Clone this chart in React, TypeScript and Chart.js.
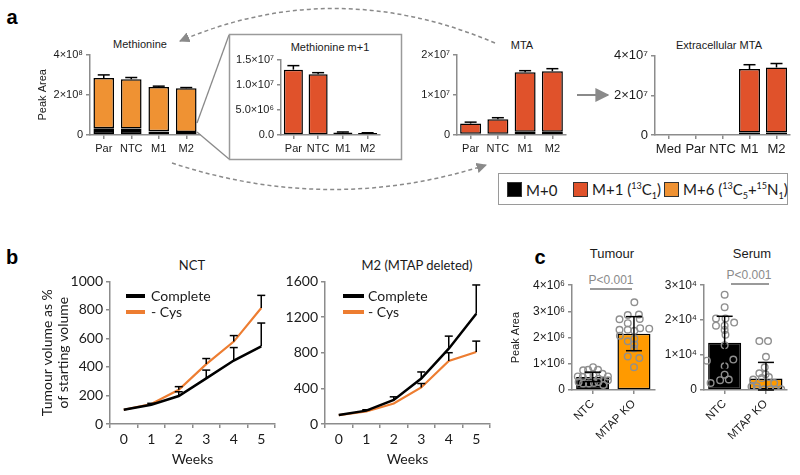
import React, { useEffect, useRef } from 'react';
import { Chart, registerables } from 'chart.js';

Chart.register(...registerables);

// ---------------- Panel a data ----------------
const aCategories = ['Par', 'NTC', 'M1', 'M2'];
const extCategories = ['Med', 'Par', 'NTC', 'M1', 'M2'];

const metM0 = [2.0e7, 2.0e7, 1.8e7, 1.5e7];
const metM1 = [1.3e7, 1.2e7, 0.05e7, 0.04e7];
const metM6 = [2.51e8, 2.45e8, 2.2e8, 2.17e8];
const metUpper = [2.99e8, 2.86e8, 2.43e8, 2.36e8];
const metTicks = [0, 2e8, 4e8];
const metTickLabels = ['0', '2×10⁸', '4×10⁸'];

const mp1Values = [1.30e7, 1.21e7, 0.05e7, 0.04e7];
const mp1Upper = [1.38e7, 1.24e7, 0.06e7, 0.045e7];
const mp1Ticks = [0, 5e6, 1e7, 1.5e7];
const mp1TickLabels = ['0.0', '5.0×10⁶', '1.0×10⁷', '1.5×10⁷'];

const mtaM0 = [0.03e7, 0.03e7, 0.08e7, 0.08e7];
const mtaM1 = [0.255e7, 0.36e7, 1.48e7, 1.505e7];
const mtaUpper = [0.32e7, 0.43e7, 1.6e7, 1.65e7];
const mtaTicks = [0, 1e7, 2e7];
const mtaTickLabels = ['0', '1×10⁷', '2×10⁷'];

const extM0 = [null, null, null, 0.12e7, 0.12e7];
const extM1 = [null, null, null, 3.21e7, 3.29e7];
const extUpper = [null, null, null, 3.55e7, 3.61e7];
const extTicks = [0, 2e7, 4e7];
const extTickLabels = ['0', '2×10⁷', '4×10⁷'];

// ---------------- Panel b data ----------------
const weeks = ['0', '1', '2', '3', '4', '5'];
const nctComplete = [100, 135, 196, 320, 445, 545];
const nctCys = [100, 140, 240, 420, 578, 813];
const nctCompleteUpper = [null, 145, 226, 378, 536, 708];
const nctCysUpper = [null, null, 262, 459, 620, 902];
const nctTicks = [0, 200, 400, 600, 800, 1000];

const m2Complete = [100, 150, 270, 510, 845, 1236];
const m2Cys = [100, 140, 230, 410, 707, 808];
const m2CompleteUpper = [null, 160, 305, 584, 986, 1560];
const m2CysUpper = [null, null, null, 454, 800, 930];
const m2Ticks = [0, 400, 800, 1200, 1600];

// ---------------- Panel c data ----------------
const cCategories = ['NTC', 'MTAP KO'];
const cPositions = [0, 1];

const tumMeans = [0.50e6, 2.15e6];
const tumUpper = [0.68e6, 2.8e6];
const tumLower = [0.32e6, 1.5e6];
const tumTicks = [0, 1e6, 2e6, 3e6, 4e6];
const tumTickLabels = ['0', '1×10⁶', '2×10⁶', '3×10⁶', '4×10⁶'];
const tumNtcJitter = [-0.23, -0.11, 0.01, 0.13, 0.24, 0.37, -0.36, -0.24, -0.11, 0.02, 0.14, -0.34, -0.23, -0.09, 0.03, 0.14, 0.26, 0.37];
const tumNtcVals = [0.75e6, 0.77e6, 0.87e6, 0.77e6, 0.62e6, 0.52e6, 0.52e6, 0.50e6, 0.56e6, 0.56e6, 0.43e6, 0.31e6, 0.25e6, 0.25e6, 0.27e6, 0.31e6, 0.19e6, 0.37e6];
const tumKoJitter = [0.01, -0.35, -0.15, 0.12, 0.14, -0.15, -0.35, -0.15, 0.01, 0.15, 0.37, -0.34, 0.01, -0.15, 0.01, 0.0, -0.15, 0.13, 0.0];
const tumKoVals = [3.35e6, 2.70e6, 2.86e6, 2.88e6, 2.71e6, 2.55e6, 2.30e6, 2.30e6, 2.26e6, 2.36e6, 2.34e6, 2.07e6, 1.96e6, 1.86e6, 1.74e6, 1.58e6, 1.28e6, 1.22e6, 0.87e6];

const serMeans = [1.35e4, 0.33e4];
const serUpper = [2.11e4, 0.79e4];
const serLower = [0.59e4, 0];
const serTicks = [0, 1e4, 2e4, 3e4];
const serTickLabels = ['0', '1×10⁴', '2×10⁴', '3×10⁴'];
const serNtcJitter = [0.0, 0.0, -0.21, 0.02, 0.23, -0.21, 0.0, 0.0, 0.02, 0.0, -0.43, 0.21, 0.0, 0.0, -0.11, -0.34, 0.10];
const serNtcVals = [2.73e4, 2.37e4, 2.05e4, 2.05e4, 1.93e4, 1.84e4, 1.84e4, 1.72e4, 1.58e4, 1.28e4, 0.84e4, 0.87e4, 0.68e4, 0.44e4, 0.28e4, 0.20e4, 0.30e4];
const serKoJitter = [-0.16, 0.05, 0.0, -0.03, -0.16, -0.01, -0.31, -0.10, 0.07, 0.20, -0.35, -0.22, -0.05, 0.10, 0.24, 0.37, -0.22];
const serKoVals = [1.40e4, 1.40e4, 0.95e4, 0.65e4, 0.48e4, 0.45e4, 0.30e4, 0.34e4, 0.37e4, 0.20e4, 0.09e4, 0.11e4, 0.02e4, 0.02e4, 0.01e4, 0.02e4, 0.03e4];

// ---------------- styles ----------------
const FONT_A = "'Liberation Sans', Arial, sans-serif";
const FONT_B = "Lato, 'Open Sans', sans-serif";
const AXIS = '#8c8c8c';
const BLACK = '#000000';
const RED = '#E0522B';
const ORANGE_A = '#EF9233';
const ORANGE_B = '#ED7D31';
const ORANGE_C = '#FF9A00';
const DOT = '#8f8f8f';

type ErrItem = { dataset: number; upper?: (number | null)[]; lower?: (number | null)[] };

function errorBars(items: ErrItem[], cap: number, width = 1.5, color = '#000') {
  return {
    id: 'errorBars',
    afterDatasetsDraw(chart: any) {
      const ctx = chart.ctx;
      ctx.save();
      ctx.strokeStyle = color;
      ctx.lineWidth = width;
      ctx.lineCap = 'butt';
      const seg = (x1: number, y1: number, x2: number, y2: number) => {
        ctx.beginPath();
        ctx.moveTo(x1, y1);
        ctx.lineTo(x2, y2);
        ctx.stroke();
      };
      for (const it of items) {
        const meta = chart.getDatasetMeta(it.dataset);
        const ys = chart.scales[meta.yAxisID];
        meta.data.forEach((el: any, i: number) => {
          const x = el.x;
          const y = el.y;
          if (!isFinite(x) || !isFinite(y)) return;
          const up = it.upper ? it.upper[i] : null;
          const lo = it.lower ? it.lower[i] : null;
          if (up != null) {
            const yu = ys.getPixelForValue(up);
            seg(x, y, x, yu);
            seg(x - cap / 2, yu, x + cap / 2, yu);
          }
          if (lo != null) {
            const yl = ys.getPixelForValue(lo);
            seg(x, y, x, yl);
            seg(x - cap / 2, yl, x + cap / 2, yl);
          }
        });
      }
      ctx.restore();
    },
  };
}

function yLin(tickVals: number[], tickLabels: string[], width: number, font: any, title?: any, stacked = false) {
  return {
    type: 'linear',
    min: tickVals[0],
    max: tickVals[tickVals.length - 1],
    stacked,
    afterBuildTicks: (s: any) => {
      s.ticks = tickVals.map((v) => ({ value: v }));
    },
    afterFit: (s: any) => {
      s.width = width;
    },
    ticks: {
      font,
      color: '#1a1a1a',
      padding: 3,
      callback: (v: number) => {
        const i = tickVals.indexOf(v);
        return i >= 0 ? tickLabels[i] : '';
      },
    },
    grid: { drawOnChartArea: false, drawTicks: true, tickLength: 4, color: AXIS, lineWidth: 1.5 },
    border: { display: true, color: AXIS, width: 1.5 },
    title: title || { display: false },
  };
}

function xCat(height: number, font: any, gridOffset: boolean, rotation = 0, title?: any, stacked = false) {
  return {
    type: 'category',
    offset: true,
    stacked,
    afterFit: (s: any) => {
      s.height = height;
    },
    ticks: { font, color: '#1a1a1a', maxRotation: rotation, minRotation: rotation, autoSkip: false, padding: 3 },
    grid: { offset: gridOffset, drawOnChartArea: false, drawTicks: true, tickLength: 4, color: AXIS, lineWidth: 1.5 },
    border: { display: true, color: AXIS, width: 1.5 },
    title: title || { display: false },
  };
}

// linear x axis whose ticks sit at the group positions, labelled with the group names
function xGroups(height: number, font: any, positions: number[], names: string[]) {
  return {
    type: 'linear',
    offset: false,
    min: positions[0] - 0.5,
    max: positions[positions.length - 1] + 0.5,
    afterBuildTicks: (s: any) => {
      s.ticks = positions.map((v) => ({ value: v }));
    },
    afterFit: (s: any) => {
      s.height = height;
    },
    ticks: {
      font,
      color: '#1a1a1a',
      maxRotation: 45,
      minRotation: 45,
      autoSkip: false,
      padding: 3,
      callback: (v: number) => {
        const i = positions.indexOf(v);
        return i >= 0 ? names[i] : '';
      },
    },
    grid: { offset: false, drawOnChartArea: false, drawTicks: true, tickLength: 4, color: AXIS, lineWidth: 1.5 },
    border: { display: true, color: AXIS, width: 1.5 },
  };
}

function baseOptions(padTop: number, padRight: number, scales: any) {
  return {
    responsive: false,
    animation: false,
    events: [],
    layout: { padding: { top: padTop, right: padRight, bottom: 0, left: 0 } },
    plugins: { legend: { display: false }, tooltip: { enabled: false }, title: { display: false } },
    scales,
  };
}

function barDs(label: string, data: any[], color: string, pct: number) {
  return {
    label,
    data,
    backgroundColor: color,
    borderColor: '#000',
    borderWidth: 1.5,
    borderSkipped: false,
    barPercentage: pct,
    categoryPercentage: 1,
  };
}

const fA = { family: FONT_A, size: 11 };
const fAext = { family: FONT_A, size: 13 };
const fB = { family: FONT_B, size: 14 };
const fC = { family: FONT_A, size: 12 };

// ---------------- chart configs ----------------
const methionineConfig = () => ({
  type: 'bar',
  data: {
    labels: aCategories,
    datasets: [
      barDs('M+0', metM0, BLACK, 0.75),
      barDs('M+1 (13C1)', metM1, RED, 0.75),
      barDs('M+6 (13C5+15N1)', metM6, ORANGE_A, 0.75),
    ],
  },
  options: baseOptions(8, 5, {
    x: xCat(25, fA, false, 0, undefined, true),
    y: yLin(metTicks, metTickLabels, 62, fA, { display: true, text: 'Peak Area', font: fA, color: '#1a1a1a', padding: { top: 8, bottom: 0 } }, true),
  }),
  plugins: [errorBars([{ dataset: 2, upper: metUpper }], 12)],
});

const mp1Config = () => ({
  type: 'bar',
  data: { labels: aCategories, datasets: [barDs('M+1 (13C1)', mp1Values, RED, 0.77)] },
  options: baseOptions(8, 4, {
    x: xCat(21, fA, false),
    y: yLin(mp1Ticks, mp1TickLabels, 49, fA),
  }),
  plugins: [errorBars([{ dataset: 0, upper: mp1Upper }], 12)],
});

const mtaConfig = () => ({
  type: 'bar',
  data: {
    labels: aCategories,
    datasets: [barDs('M+0', mtaM0, BLACK, 0.77), barDs('M+1 (13C1)', mtaM1, RED, 0.77)],
  },
  options: baseOptions(8, 4, {
    x: xCat(25, fA, false, 0, undefined, true),
    y: yLin(mtaTicks, mtaTickLabels, 57, fA, undefined, true),
  }),
  plugins: [errorBars([{ dataset: 1, upper: mtaUpper }], 12)],
});

const extConfig = () => ({
  type: 'bar',
  data: {
    labels: extCategories,
    datasets: [barDs('M+0', extM0, BLACK, 0.78), barDs('M+1 (13C1)', extM1, RED, 0.78)],
  },
  options: baseOptions(8, 5, {
    x: xCat(28, fAext, false, 0, undefined, true),
    y: yLin(extTicks, extTickLabels, 55, fAext, undefined, true),
  }),
  plugins: [errorBars([{ dataset: 1, upper: extUpper }], 12)],
});

function lineConfig(complete: number[], cys: number[], cUp: any[], yUp: any[], ticks: number[], withYTitle: boolean) {
  return {
    type: 'line',
    data: {
      labels: weeks,
      datasets: [
        { label: 'Complete', data: complete, borderColor: BLACK, borderWidth: 2.5, pointRadius: 0, tension: 0, fill: false },
        { label: '- Cys', data: cys, borderColor: ORANGE_B, borderWidth: 2.2, pointRadius: 0, tension: 0, fill: false },
      ],
    },
    options: baseOptions(11, 5, {
      x: xCat(44, fB, true, 0, { display: true, text: 'Weeks', font: fB, color: '#1a1a1a', padding: { top: 0, bottom: 0 } }),
      y: yLin(
        ticks,
        ticks.map((t) => String(t)),
        80,
        fB,
        withYTitle
          ? { display: true, text: ['Tumour volume as %', 'of starting volume'], font: { family: FONT_B, size: 14, lineHeight: 1.1 }, color: '#1a1a1a', padding: { top: 10, bottom: 0 } }
          : undefined
      ),
    }),
    plugins: [errorBars([{ dataset: 0, upper: cUp }, { dataset: 1, upper: yUp }], 8)],
  };
}

function dotsDataset(jitter: number[], vals: number[], center: number) {
  return {
    type: 'scatter',
    label: 'points',
    data: jitter.map((j, i) => ({ x: center + j, y: vals[i] })),
    pointRadius: 3.3,
    pointBorderWidth: 1.4,
    pointBorderColor: DOT,
    pointBackgroundColor: 'rgba(0,0,0,0)',
    order: -1,
  };
}

function cConfig(means: number[], upper: number[], lower: number[], ticks: number[], tickLabels: string[], yw: number,
  ntcJ: number[], ntcV: number[], koJ: number[], koV: number[], withTitle: boolean) {
  return {
    type: 'bar',
    data: {
      datasets: [
        {
          type: 'bar',
          label: 'mean',
          data: cPositions.map((p, i) => ({ x: p, y: means[i] })),
          backgroundColor: [BLACK, ORANGE_C],
          borderColor: '#000',
          borderWidth: 1.5,
          borderSkipped: false,
          barPercentage: 0.8,
          categoryPercentage: 1,
          grouped: false,
          order: 1,
        },
        dotsDataset(ntcJ, ntcV, cPositions[0]),
        dotsDataset(koJ, koV, cPositions[1]),
      ],
    },
    options: baseOptions(8, 4, {
      x: xGroups(70, { family: FONT_A, size: 11.5 }, cPositions, cCategories),
      y: yLin(ticks, tickLabels, yw, fC,
        withTitle ? { display: true, text: 'Peak Area', font: { family: FONT_A, size: 11 }, color: '#1a1a1a', padding: { top: 4, bottom: 0 } } : undefined),
    }),
    plugins: [errorBars([{ dataset: 0, upper, lower }], 16)],
  };
}

// ---------------- components ----------------
function ChartBox({ left, top, width, height, make }: { left: number; top: number; width: number; height: number; make: () => any }) {
  const ref = useRef<HTMLCanvasElement>(null);
  useEffect(() => {
    const chart = new Chart(ref.current as HTMLCanvasElement, make());
    return () => chart.destroy();
  }, []);
  return (
    <canvas
      ref={ref}
      width={width}
      height={height}
      style={{ position: 'absolute', left, top, width, height }}
    />
  );
}

function Txt({ x, y, children, size = 12, family = FONT_A, weight = 400, color = '#1a1a1a', align = 'center' }: any) {
  const tx = align === 'center' ? '-50%' : '0';
  return (
    <div
      style={{
        position: 'absolute',
        left: x,
        top: y,
        transform: `translate(${tx}, -50%)`,
        fontFamily: family,
        fontSize: size,
        fontWeight: weight,
        color,
        whiteSpace: 'nowrap',
        lineHeight: 1,
      }}
    >
      {children}
    </div>
  );
}

function Swatch({ x, y, color }: { x: number; y: number; color: string }) {
  return <div style={{ position: 'absolute', left: x, top: y, width: 15, height: 15, background: color, border: '1px solid #333', boxSizing: 'border-box' }} />;
}

function LegendLine({ x, y, w, color }: { x: number; y: number; w: number; color: string }) {
  return <div style={{ position: 'absolute', left: x, top: y - 2, width: w, height: 4, background: color }} />;
}

export default function App() {
  return (
    <div style={{ position: 'fixed', left: 0, top: 0, width: 800, height: 475, background: '#fff', overflow: 'hidden' }}>
      <svg width={800} height={475} style={{ position: 'absolute', left: 0, top: 0 }}>
        <defs>
          <marker id="ah" viewBox="0 0 10 10" refX="9" refY="5" markerWidth="7" markerHeight="7" orient="auto">
            <path d="M0,0 L10,5 L0,10 z" fill="#8a8a8a" />
          </marker>
        </defs>
        <path d="M 495 43 Q 335 -25 180 41" fill="none" stroke="#8a8a8a" strokeWidth={1.5} strokeDasharray="4 3" markerEnd="url(#ah)" />
        <path d="M 172 163 Q 330 215 486 165" fill="none" stroke="#8a8a8a" strokeWidth={1.5} strokeDasharray="4 3" markerEnd="url(#ah)" />
        <path d="M 577 95 L 608 95" fill="none" stroke="#8a8a8a" strokeWidth={2} markerEnd="url(#ah)" />
        <line x1={197} y1={123} x2={229} y2={35} stroke="#8a8a8a" strokeWidth={1.3} />
        <line x1={197} y1={132} x2={229} y2={159} stroke="#8a8a8a" strokeWidth={1.3} />
        <rect x={229.5} y={34.5} width={172} height={125} fill="none" stroke="#9a9a9a" strokeWidth={1.5} />
      </svg>

      {/* panel letters */}
      <Txt x={12} y={17} size={20} weight={700} family={FONT_A} color="#000">a</Txt>
      <Txt x={12} y={257} size={20} weight={700} family={FONT_A} color="#000">b</Txt>
      <Txt x={540} y={257} size={20} weight={700} family={FONT_A} color="#000">c</Txt>

      {/* panel a */}
      <Txt x={140} y={44} size={11}>Methionine</Txt>
      <Txt x={330} y={47} size={11}>Methionine m+1</Txt>
      <Txt x={522} y={45} size={11}>MTA</Txt>
      <Txt x={719} y={45} size={11}>Extracellular MTA</Txt>
      <ChartBox left={28} top={45} width={177} height={115} make={methionineConfig} />
      <ChartBox left={232} top={50} width={152} height={106} make={mp1Config} />
      <ChartBox left={400} top={45} width={170} height={115} make={mtaConfig} />
      <ChartBox left={600} top={45} width={195} height={118} make={extConfig} />

      {/* legend box */}
      <div style={{ position: 'absolute', left: 498, top: 173, width: 290, height: 32, border: '1.5px solid #9a9a9a', boxSizing: 'border-box' }} />
      <Swatch x={507} y={182} color={BLACK} />
      <Txt x={526} y={190} size={15} family={FONT_B} align="left">M+0</Txt>
      <Swatch x={573} y={182} color={RED} />
      <Txt x={592} y={190} size={15} family={FONT_B} align="left">
        M+1 (<sup style={{ fontSize: 9 }}>13</sup>C<sub style={{ fontSize: 9 }}>1</sub>)
      </Txt>
      <Swatch x={664} y={182} color={ORANGE_A} />
      <Txt x={683} y={190} size={15} family={FONT_B} align="left">
        M+6 (<sup style={{ fontSize: 9 }}>13</sup>C<sub style={{ fontSize: 9 }}>5</sub>+<sup style={{ fontSize: 9 }}>15</sup>N<sub style={{ fontSize: 9 }}>1</sub>)
      </Txt>

      {/* panel b */}
      <Txt x={192} y={265} size={13} family={FONT_B}>NCT</Txt>
      <Txt x={417} y={265} size={13} family={FONT_B}>M2 (MTAP deleted)</Txt>
      <ChartBox left={30} top={270} width={250} height={198} make={() => lineConfig(nctComplete, nctCys, nctCompleteUpper, nctCysUpper, nctTicks, true)} />
      <ChartBox left={245} top={270} width={250} height={198} make={() => lineConfig(m2Complete, m2Cys, m2CompleteUpper, m2CysUpper, m2Ticks, false)} />
      <LegendLine x={126} y={296} w={19} color={BLACK} />
      <Txt x={151} y={296} size={14} family={FONT_B} align="left">Complete</Txt>
      <LegendLine x={126} y={312} w={19} color={ORANGE_B} />
      <Txt x={151} y={312} size={14} family={FONT_B} align="left">- Cys</Txt>
      <LegendLine x={343} y={296} w={21} color={BLACK} />
      <Txt x={368} y={296} size={14} family={FONT_B} align="left">Complete</Txt>
      <LegendLine x={343} y={312} w={21} color={ORANGE_B} />
      <Txt x={368} y={312} size={14} family={FONT_B} align="left">- Cys</Txt>

      {/* panel c */}
      <Txt x={612} y={253} size={13}>Tumour</Txt>
      <Txt x={752} y={253} size={13}>Serum</Txt>
      <Txt x={611} y={280} size={12} color="#8a8a8a">P&lt;0.001</Txt>
      <div style={{ position: 'absolute', left: 590, top: 288, width: 42, height: 1.5, background: '#9a9a9a' }} />
      <Txt x={749} y={275} size={12} color="#8a8a8a">P&lt;0.001</Txt>
      <div style={{ position: 'absolute', left: 731, top: 283, width: 38, height: 1.5, background: '#9a9a9a' }} />
      <ChartBox left={505} top={275} width={155} height={185}
        make={() => cConfig(tumMeans, tumUpper, tumLower, tumTicks, tumTickLabels, 67, tumNtcJitter, tumNtcVals, tumKoJitter, tumKoVals, true)} />
      <ChartBox left={655} top={275} width={137} height={185}
        make={() => cConfig(serMeans, serUpper, serLower, serTicks, serTickLabels, 49, serNtcJitter, serNtcVals, serKoJitter, serKoVals, false)} />
    </div>
  );
}
